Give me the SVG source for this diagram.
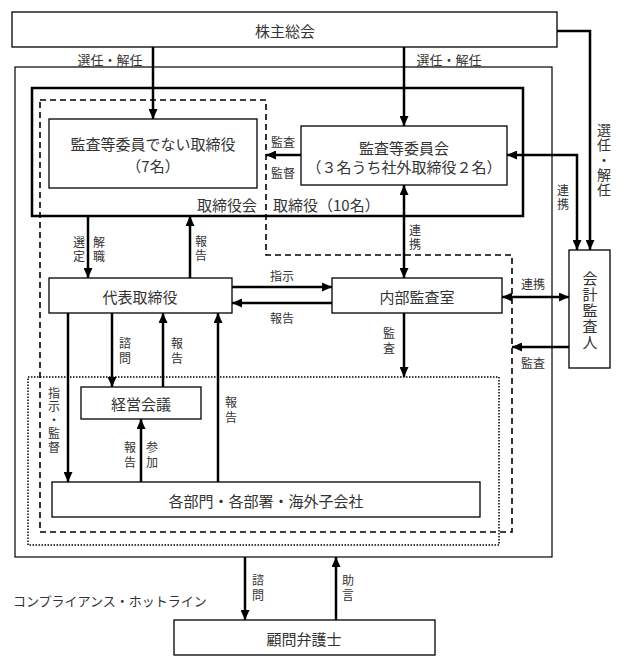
<svg xmlns="http://www.w3.org/2000/svg" width="623" height="666" viewBox="0 0 623 666">
<style>
text{font-family:"Noto Sans CJK JP","Noto Sans",sans-serif;fill:#333;dominant-baseline:central;text-anchor:middle}
.t{font-size:15px}
.l{font-size:12px}
.v{writing-mode:vertical-rl;text-anchor:start;font-size:12px;letter-spacing:3px}
.box{fill:#fff;stroke:#000;stroke-width:1.3}
.c{fill:none;stroke:#000;stroke-width:2.5}
</style>
<defs>
<marker id="ah" markerUnits="userSpaceOnUse" markerWidth="10" markerHeight="9" refX="10" refY="4.5" orient="auto-start-reverse">
<path d="M0,0 L10,4.5 L0,9 z" fill="#000"/>
</marker>
</defs>
<rect width="623" height="666" fill="#fff"/>
<g id="frames">
<rect x="15" y="67" width="537" height="490" fill="none" stroke="#000" stroke-width="1.2"/>
<rect x="32" y="88" width="491" height="128" fill="none" stroke="#000" stroke-width="2.5"/>
<path d="M40,100 H266 V255 H512 V532 H40 Z" fill="none" stroke="#000" stroke-width="1.6" stroke-dasharray="6,4"/>
<rect x="28" y="377" width="471" height="168" fill="none" stroke="#000" stroke-width="1.5" stroke-dasharray="1.5,1.5"/>
<text class="t" x="257" y="204" style="text-anchor:end">取締役会</text>
<text class="t" x="273" y="204" style="text-anchor:start">取締役（10名）</text>
</g>
<g id="connectors">
<path class="c" d="M153,47 V119" marker-end="url(#ah)"/>
<path class="c" d="M404,47 V126" marker-end="url(#ah)"/>
<path class="c" d="M557,31 H590 V250" marker-end="url(#ah)"/>
<path class="c" d="M301,155 H266" marker-end="url(#ah)"/>
<path class="c" d="M507,155 H577 V250" marker-start="url(#ah)" marker-end="url(#ah)"/>
<path class="c" d="M404,185 V278" marker-start="url(#ah)" marker-end="url(#ah)"/>
<path class="c" d="M88,216 V278" marker-end="url(#ah)"/>
<path class="c" d="M190,278 V216" marker-end="url(#ah)"/>
<path class="c" d="M232,287 H332" marker-end="url(#ah)"/>
<path class="c" d="M332,303 H232" marker-end="url(#ah)"/>
<path class="c" d="M502,297 H569" marker-start="url(#ah)" marker-end="url(#ah)"/>
<path class="c" d="M569,347 H512" marker-end="url(#ah)"/>
<path class="c" d="M404,313 V377" marker-end="url(#ah)"/>
<path class="c" d="M68,313 V482" marker-end="url(#ah)"/>
<path class="c" d="M112,313 V387" marker-end="url(#ah)"/>
<path class="c" d="M163,387 V313" marker-end="url(#ah)"/>
<path class="c" d="M218,482 V313" marker-end="url(#ah)"/>
<path class="c" d="M141,482 V419" marker-end="url(#ah)"/>
<path class="c" d="M245,557 V620" marker-end="url(#ah)"/>
<path class="c" d="M336,620 V557" marker-end="url(#ah)"/>
<text class="l" style="font-size:13px" x="110" y="59">選任・解任</text>
<text class="l" style="font-size:13px" x="449" y="59">選任・解任</text>
<text class="v" style="font-size:14px;letter-spacing:1px" x="604" y="123">選任・解任</text>
<text class="l" x="283" y="141">監査</text>
<text class="l" x="283" y="172">監督</text>
<text class="v" style="letter-spacing:2px" x="563" y="184">連携</text>
<text class="v" style="letter-spacing:2px" x="415" y="224">連携</text>
<text class="v" style="letter-spacing:2px" x="79" y="236">選定</text>
<text class="v" style="letter-spacing:2px" x="99" y="236">解職</text>
<text class="v" style="letter-spacing:2px" x="201" y="235">報告</text>
<text class="l" x="282" y="275">指示</text>
<text class="l" x="282" y="317">報告</text>
<text class="l" x="533" y="283">連携</text>
<text class="l" x="533" y="362">監査</text>
<text class="v" x="389" y="327">監査</text>
<text class="v" x="125" y="337">諮問</text>
<text class="v" x="177" y="337">報告</text>
<text class="v" style="letter-spacing:1.5px" x="54" y="387">指示・監督</text>
<text class="v" x="231" y="396">報告</text>
<text class="v" x="130" y="441">報告</text>
<text class="v" x="152" y="441">参加</text>
<text class="v" x="258" y="574">諮問</text>
<text class="v" x="348" y="574">助言</text>
<text style="font-size:13px;text-anchor:start" x="13" y="600">コンプライアンス・ホットライン</text>
</g>
<g id="n-kabunushi">
<rect class="box" x="12" y="12" width="545" height="35"/>
<text class="t" x="285" y="30">株主総会</text>
</g>
<g id="n-torishimari">
<rect class="box" x="49" y="119" width="208" height="69"/>
<text class="t" x="153" y="143">監査等委員でない取締役</text>
<text class="t" x="153" y="165">（7名）</text>
</g>
<g id="n-kansa-iinkai">
<rect class="box" x="301" y="126" width="206" height="59"/>
<text class="t" x="404" y="147">監査等委員会</text>
<text class="t" x="404" y="166">（３名うち社外取締役２名）</text>
</g>
<g id="n-daihyo">
<rect class="box" x="49" y="278" width="183" height="35"/>
<text class="t" x="140" y="296">代表取締役</text>
</g>
<g id="n-naibu">
<rect class="box" x="332" y="278" width="170" height="35"/>
<text class="t" x="417" y="296">内部監査室</text>
</g>
<g id="n-kaikei">
<rect class="box" x="569" y="250" width="41" height="118"/>
<text class="v" style="font-size:15px;letter-spacing:1px" x="590" y="270.5">会計監査人</text>
</g>
<g id="n-keiei">
<rect class="box" x="81" y="387" width="120" height="32"/>
<text class="t" x="141" y="403">経営会議</text>
</g>
<g id="n-kakubumon">
<rect class="box" x="52" y="482" width="428" height="35"/>
<text class="t" x="266" y="500">各部門・各部署・海外子会社</text>
</g>
<g id="n-komon">
<rect class="box" x="174" y="620" width="261" height="35"/>
<text class="t" x="304" y="638">顧問弁護士</text>
</g>
</svg>
